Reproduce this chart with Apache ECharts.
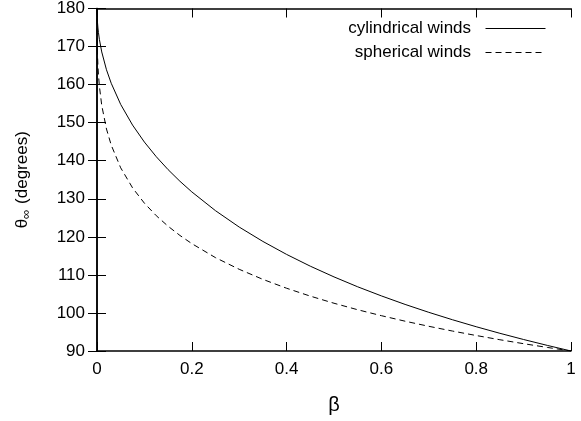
<!DOCTYPE html>
<html>
<head>
<meta charset="utf-8">
<script src="https://cdn.jsdelivr.net/npm/echarts@6/dist/echarts.min.js"></script>
<style>
  html, body { margin: 0; padding: 0; background: #fff; }
  #c1 { width: 581px; height: 421px; }
</style>
</head>
<body>
<div id="c1"></div>
<script>
// beta values and the asymptotic angle
var betaValues = [0, 0.0001, 0.0005, 0.001, 0.002, 0.003, 0.005, 0.01, 0.02, 0.03,
  0.05, 0.075, 0.1, 0.125, 0.15, 0.175, 0.2, 0.25, 0.3, 0.35,
  0.4, 0.45, 0.5, 0.55, 0.6, 0.65, 0.7, 0.75, 0.8, 0.85,
  0.9, 0.95, 1]
var cylindricalWinds = [180, 178.85, 177.44, 176.38, 174.88, 173.73, 171.91, 168.58, 163.90, 160.35,
  154.79, 149.37, 144.90, 141.06, 137.66, 134.60, 131.81, 126.87, 122.57, 118.79,
  115.38, 112.29, 109.47, 106.87, 104.48, 102.24, 100.16, 98.21, 96.38, 94.65,
  93.02, 91.47, 90]
var sphericalWinds = [180, 174.39, 170.43, 167.97, 164.88, 162.74, 159.63, 154.54, 148.33, 144.11,
  138.13, 132.87, 128.84, 125.56, 122.78, 120.36, 118.22, 114.53, 111.47, 108.82,
  106.49, 104.42, 102.55, 100.84, 99.28, 97.83, 96.49, 95.24, 94.07, 92.96,
  91.92, 90.94, 90]
var xTicks = [0, 0.2, 0.4, 0.6, 0.8, 1]
var yTicks = [90, 100, 110, 120, 130, 140, 150, 160, 170, 180]

function pairs(xs, ys) {
  var out = []
  for (var i = 0; i < xs.length; i++) out.push([xs[i], ys[i]])
  return out
}

var font = 'Liberation Sans'
var axisLine = { lineStyle: { color: '#000', width: 1.5 } }
var ticks = { inside: true, length: 9, lineStyle: { color: '#000', width: 1 } }

function legendBox(name, top) {
  return {
    data: [name],
    right: 35, top: top, padding: 0,
    align: 'right', itemWidth: 60, itemHeight: 14,
    itemStyle: { opacity: 0 },
    lineStyle: { width: 1 },
    formatter: function (n) { return n + '  ' },
    textStyle: { fontFamily: font, fontSize: 17, color: '#000' }
  }
}

var myChart = echarts.init(document.getElementById('c1'))
myChart.setOption({
  animation: false,
  backgroundColor: '#fff',
  grid: { left: 97, right: 10, top: 7, bottom: 70 },
  legend: [legendBox('cylindrical winds', 20), legendBox('spherical winds', 44)],
  xAxis: [{
    type: 'value', min: xTicks[0], max: xTicks[xTicks.length - 1], interval: 0.2,
    name: 'β', nameLocation: 'middle', nameGap: 44,
    nameTextStyle: { fontFamily: font, fontSize: 20, color: '#000' },
    axisLine: axisLine, axisTick: ticks, splitLine: { show: false },
    axisLabel: { fontFamily: font, fontSize: 17, color: '#000', margin: 10 }
  }, {
    type: 'value', position: 'top', min: 0, max: 1, interval: 0.2,
    axisLine: axisLine, axisTick: ticks, splitLine: { show: false },
    axisLabel: { show: false }
  }],
  yAxis: [{
    type: 'value', min: yTicks[0], max: yTicks[yTicks.length - 1], interval: 10,
    name: '{t|θ}{s|∞}{t| (degrees)}', nameLocation: 'middle', nameGap: 64, nameRotate: 90,
    nameTextStyle: {
      fontFamily: font, fontSize: 17, color: '#000',
      rich: {
        t: { fontFamily: font, fontSize: 17, color: '#000', lineHeight: 22 },
        s: { fontFamily: font, fontSize: 13, color: '#000', lineHeight: 22, verticalAlign: 'bottom', padding: [6, 1, 0, 0] }
      }
    },
    axisLine: axisLine, axisTick: ticks, splitLine: { show: false },
    axisLabel: { fontFamily: font, fontSize: 17, color: '#000', margin: 12 }
  }, {
    type: 'value', position: 'right', min: 90, max: 180, interval: 10,
    axisLine: axisLine, axisTick: ticks, splitLine: { show: false },
    axisLabel: { show: false }
  }],
  series: [{
    name: 'cylindrical winds', type: 'line', showSymbol: false, symbol: 'none',
    lineStyle: { color: '#000', width: 1, type: 'solid' },
    itemStyle: { color: '#000' },
    data: pairs(betaValues, cylindricalWinds)
  }, {
    name: 'spherical winds', type: 'line', showSymbol: false, symbol: 'none',
    lineStyle: { color: '#000', width: 1, type: [6, 4] },
    itemStyle: { color: '#000' },
    data: pairs(betaValues, sphericalWinds)
  }]
})
</script>
</body>
</html>
